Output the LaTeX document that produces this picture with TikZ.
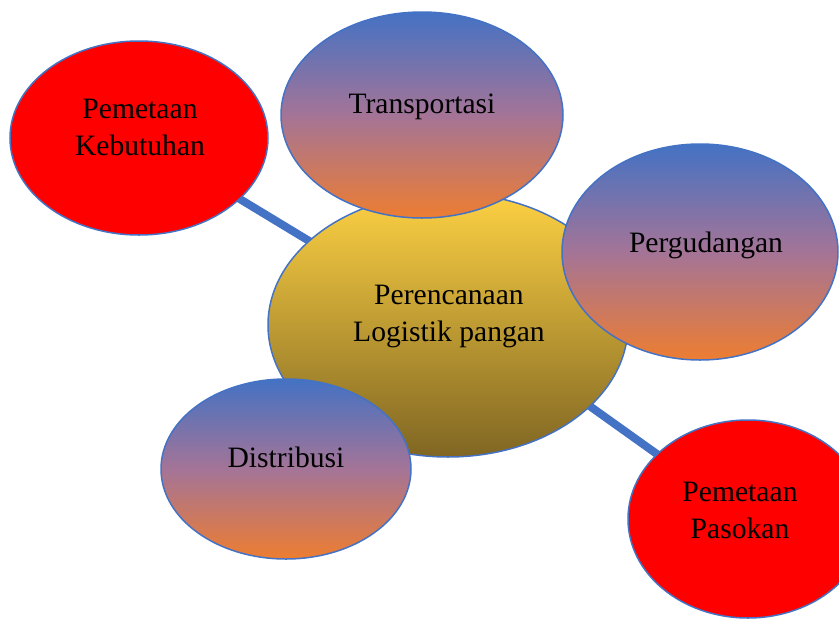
\documentclass[tikz,border=0pt]{standalone}
\usepackage{fontspec}
\setmainfont{Liberation Serif}
\usepackage{xcolor}
\usepackage{tikz}
\usetikzlibrary{shapes.geometric, backgrounds}

\definecolor{wordblue}{HTML}{4472C4}
\definecolor{wordorange}{HTML}{ED7D31}
\definecolor{wordmauve}{HTML}{A47497}
\definecolor{goldtop}{HTML}{FDD143}
\definecolor{goldbot}{HTML}{806623}

\begin{document}
\begin{tikzpicture}[
    x=1pt, y=-1pt,
    bubble/.style={ellipse, draw=wordblue, line width=1.5pt, inner sep=0pt},
    grad/.style={bubble, top color=wordblue, bottom color=wordorange, middle color=wordmauve},
    redbub/.style={bubble, fill=red},
    core/.style={bubble, top color=goldtop, bottom color=goldbot},
    lbl/.style={anchor=base, align=center, font=\fontsize{29.6}{37}\selectfont},
    link/.style={line width=8pt, draw=wordblue}
]
\useasboundingbox (0,0) rectangle (839,619);

\node[redbub, minimum width=258pt, minimum height=194pt] (keb) at (139,138) {};
\node[redbub, minimum width=240pt, minimum height=198pt] (pas) at (748,519) {};
\node[core, minimum width=360pt, minimum height=264pt] (cen) at (448,325) {};
\node[grad, minimum width=282pt, minimum height=206pt] (trans) at (422,115) {};
\node[grad, minimum width=276pt, minimum height=216pt] (gud) at (700,252) {};
\node[grad, minimum width=250pt, minimum height=180pt] (dist) at (286,469) {};

\node[lbl] (tkeb) at (140,155) {Pemetaan\\Kebutuhan};
\node[lbl] (tpas) at (740,538) {Pemetaan\\Pasokan};
\node[lbl] (tcen) at (449,341) {Perencanaan\\Logistik pangan};
\node[lbl] (ttrans) at (422,113) {Transportasi};
\node[lbl] (tgud) at (706,252) {Pergudangan};
\node[lbl] (tdist) at (286,467) {Distribusi};

\begin{scope}[on background layer]
\draw[link] (keb.center) -- (cen.center);
\draw[link] ([yshift=20pt]cen.center) -- (pas.center);
\end{scope}
\end{tikzpicture}
\end{document}
